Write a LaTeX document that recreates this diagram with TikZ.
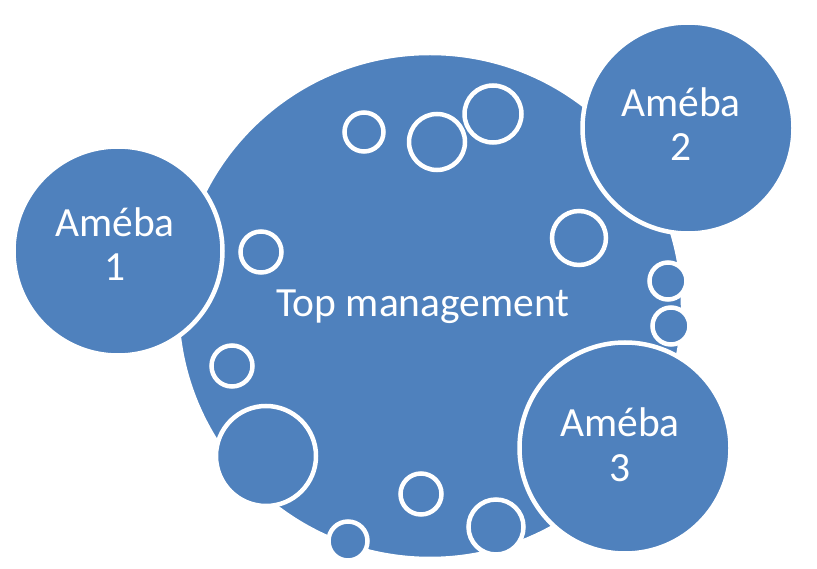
\documentclass[tikz,border=0pt]{standalone}
\usepackage{fontspec}
\setmainfont{Carlito}
\definecolor{amblue}{HTML}{4F81BD}
\tikzset{
  blob/.style={circle, fill=amblue, draw=white, line width=4.5pt, inner sep=0pt, minimum size=#1},
  lbl/.style={text=white, align=center, font=\fontsize{41.5}{44.5}\selectfont, inner sep=0pt, anchor=base}
}
\begin{document}
\begin{tikzpicture}[x=1pt,y=-1pt]
\useasboundingbox (0,0) rectangle (817,569);
% main circle
\node[blob=506pt] (top) at (430,306) {};
\node[lbl] (toptxt) at (423,317) {Top management};
% Ameba 1
\node[blob=209pt] (a1) at (118,251) {};
% small circles
\node[blob=39pt] (c1) at (364,132) {};
\node[blob=56pt] (c2) at (437,142) {};
\node[blob=57pt] (c3) at (493,114) {};
\node[blob=54pt] (c4) at (579,238) {};
\node[blob=37pt] (c5) at (668,281) {};
\node[blob=37pt] (c6) at (671,326) {};
\node[blob=41pt] (c7) at (261,252) {};
\node[blob=41pt] (c8) at (232,366) {};
\node[blob=100pt] (c9) at (266,456) {};
\node[blob=41pt] (c10) at (421,494) {};
\node[blob=55pt] (c11) at (496,527) {};
\node[blob=39pt] (c12) at (348,541) {};
% Ameba 2, 3
\node[blob=211pt] (a2) at (688,128) {};
\node[blob=211pt] (a3) at (625,448) {};
% labels
\node[lbl] (a1txt) at (115,281) {Améba\\1};
\node[lbl] (a2txt) at (681,161) {Améba\\2};
\node[lbl] (a3txt) at (620,481) {Améba\\3};
\end{tikzpicture}
\end{document}
